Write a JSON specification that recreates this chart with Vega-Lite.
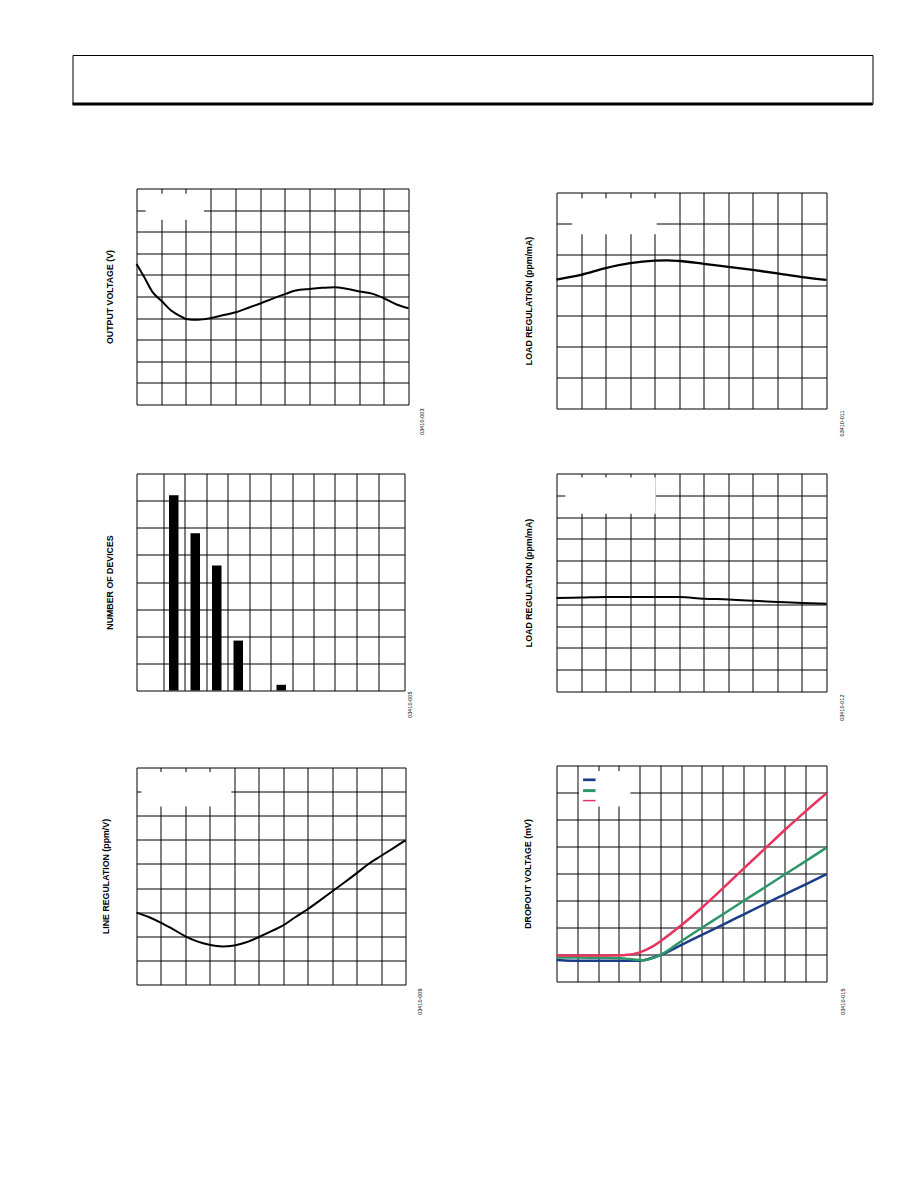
{
  "$schema": "https://vega.github.io/schema/vega-lite/v6.json",
  "background": "white",
  "padding": {"left": 70.5, "top": 54, "right": 10, "bottom": 10},
  "config": {
    "font": "Liberation Sans",
    "view": {"stroke": "black", "strokeWidth": 1},
    "axis": {
      "grid": true, "gridColor": "black", "gridOpacity": 1, "gridWidth": 1,
      "ticks": false, "labels": false, "domain": false, "minExtent": 0,
      "titleFont": "Liberation Sans", "titleFontSize": 8.8, "titleFontWeight": "bold", "titleColor": "black"
    }
  },
  "vconcat": [
    {
      "width": 800, "height": 49,
      "data": {"values": [{"edge": 0}]},
      "mark": {"type": "rule", "color": "black", "strokeWidth": 3},
      "encoding": {"y": {"field": "edge", "type": "quantitative", "scale": {"domain": [0, 1]}, "axis": null}}
    },
    {
      "hconcat": [
        {
          "width": 1, "height": 1,
          "data": {"values": []},
          "mark": {"type": "point", "opacity": 0},
          "view": {"stroke": null, "fill": "white"}
        },
        {
          "hconcat": [
            {
              "vconcat": [
                {
                  "width": 272, "height": 216,
                  "layer": [
                    {
                      "data": {"values": [
                        {"x": 0, "v": 6.51}, {"x": 0.31, "v": 5.9}, {"x": 0.65, "v": 5.2}, {"x": 1.03, "v": 4.78},
                        {"x": 1.4, "v": 4.35}, {"x": 1.81, "v": 4.07}, {"x": 2.0, "v": 3.96}, {"x": 2.49, "v": 3.92},
                        {"x": 3.0, "v": 4.0}, {"x": 3.44, "v": 4.12}, {"x": 4.01, "v": 4.27}, {"x": 4.53, "v": 4.48},
                        {"x": 5.03, "v": 4.69}, {"x": 5.48, "v": 4.89}, {"x": 6.03, "v": 5.12}, {"x": 6.44, "v": 5.28},
                        {"x": 7.0, "v": 5.35}, {"x": 7.52, "v": 5.4}, {"x": 8.03, "v": 5.43}, {"x": 8.48, "v": 5.36},
                        {"x": 9.02, "v": 5.23}, {"x": 9.56, "v": 5.12}, {"x": 10.01, "v": 4.92}, {"x": 10.52, "v": 4.63},
                        {"x": 11, "v": 4.46}
                      ]},
                      "mark": {"type": "line", "color": "black", "strokeWidth": 2, "interpolate": "monotone"},
                      "encoding": {
                        "x": {"field": "x", "type": "quantitative", "scale": {"domain": [0, 11], "nice": false, "zero": false}, "axis": {"values": [1,2,3,4,5,6,7,8,9,10], "tickCount": 100, "title": null}},
                        "y": {"field": "v", "type": "quantitative", "scale": {"domain": [0, 10], "nice": false, "zero": false}, "axis": {"values": [1,2,3,4,5,6,7,8,9], "tickCount": 100, "title": "OUTPUT VOLTAGE (V)", "titlePadding": 22.3}}
                      }
                    },
                    {
                      "data": {"values": [{}]},
                      "mark": {"type": "rect", "color": "white"},
                      "encoding": {"x": {"datum": 0.37, "type": "quantitative"}, "x2": {"datum": 2.73}, "y": {"datum": 8.55, "type": "quantitative"}, "y2": {"datum": 9.76}}
                    },
                    {
                      "data": {"values": [{"code": "03410-003"}]},
                      "mark": {"type": "text", "angle": 270, "align": "right", "baseline": "middle", "fontSize": 5.5, "color": "black", "xOffset": 13, "yOffset": 4},
                      "encoding": {"x": {"datum": 11, "type": "quantitative"}, "y": {"datum": 0, "type": "quantitative"}, "text": {"field": "code"}}
                    }
                  ]
                },
                {
                  "vconcat": [
                    {
                      "width": 268, "height": 217,
                      "layer": [
                        {
                          "data": {"values": [
                            {"bin": 1.5, "devices": 7.2}, {"bin": 2.5, "devices": 5.8}, {"bin": 3.5, "devices": 4.61},
                            {"bin": 4.5, "devices": 1.84}, {"bin": 6.5, "devices": 0.21}
                          ]},
                          "mark": {"type": "bar", "color": "black", "size": 9.5},
                          "encoding": {
                            "x": {"field": "bin", "type": "quantitative", "scale": {"domain": [0, 12], "nice": false, "zero": false}, "axis": {"values": [1,2,3,4,5,6,7,8,9,10,11], "tickCount": 100, "title": null}},
                            "y": {"field": "devices", "type": "quantitative", "scale": {"domain": [0, 8], "nice": false}, "axis": {"values": [1,2,3,4,5,6,7], "tickCount": 100, "title": "NUMBER OF DEVICES", "titlePadding": 21.6}}
                          }
                        },
                        {
                          "data": {"values": [{"code": "03410-005"}]},
                          "mark": {"type": "text", "angle": 270, "align": "right", "baseline": "middle", "fontSize": 5.5, "color": "black", "xOffset": 10, "yOffset": 1},
                          "encoding": {"x": {"datum": 12, "type": "quantitative"}, "y": {"datum": 0, "type": "quantitative"}, "text": {"field": "code"}}
                        }
                      ]
                    },
                    {
                      "width": 269, "height": 217,
                      "layer": [
                        {
                          "data": {"values": [
                            {"x": 0, "v": 2.98}, {"x": 0.5, "v": 2.8}, {"x": 0.99, "v": 2.57}, {"x": 1.45, "v": 2.32},
                            {"x": 2.0, "v": 2.0}, {"x": 2.48, "v": 1.79}, {"x": 2.98, "v": 1.65}, {"x": 3.5, "v": 1.58},
                            {"x": 4.0, "v": 1.62}, {"x": 4.52, "v": 1.76}, {"x": 5.01, "v": 1.97}, {"x": 5.54, "v": 2.22},
                            {"x": 6.0, "v": 2.45}, {"x": 6.49, "v": 2.79}, {"x": 7.0, "v": 3.12}, {"x": 7.52, "v": 3.5},
                            {"x": 8.01, "v": 3.87}, {"x": 8.54, "v": 4.26}, {"x": 9.02, "v": 4.63}, {"x": 9.5, "v": 5.01},
                            {"x": 10.01, "v": 5.34}, {"x": 10.52, "v": 5.67}, {"x": 11, "v": 5.98}
                          ]},
                          "mark": {"type": "line", "color": "black", "strokeWidth": 2, "interpolate": "monotone"},
                          "encoding": {
                            "x": {"field": "x", "type": "quantitative", "scale": {"domain": [0, 11], "nice": false, "zero": false}, "axis": {"values": [1,2,3,4,5,6,7,8,9,10], "tickCount": 100, "title": null}},
                            "y": {"field": "v", "type": "quantitative", "scale": {"domain": [0, 9], "nice": false, "zero": false}, "axis": {"values": [1,2,3,4,5,6,7,8], "tickCount": 100, "title": "LINE REGULATION (ppm/V)", "titlePadding": 26.3}}
                          }
                        },
                        {
                          "data": {"values": [{}]},
                          "mark": {"type": "rect", "color": "white"},
                          "encoding": {"x": {"datum": 0.2, "type": "quantitative"}, "x2": {"datum": 3.88}, "y": {"datum": 7.38, "type": "quantitative"}, "y2": {"datum": 8.81}}
                        },
                        {
                          "data": {"values": [{"code": "03410-009"}]},
                          "mark": {"type": "text", "angle": 270, "align": "right", "baseline": "middle", "fontSize": 5.5, "color": "black", "xOffset": 14, "yOffset": 4},
                          "encoding": {"x": {"datum": 11, "type": "quantitative"}, "y": {"datum": 0, "type": "quantitative"}, "text": {"field": "code"}}
                        }
                      ]
                    }
                  ],
                  "spacing": 48
                }
              ],
              "spacing": 37
            },
            {
              "vconcat": [
                {
                  "width": 1, "height": 1,
                  "data": {"values": []},
                  "mark": {"type": "point", "opacity": 0},
                  "view": {"stroke": null, "fill": "white"}
                },
                {
                  "vconcat": [
                    {
                      "width": 270, "height": 216,
                      "layer": [
                        {
                          "data": {"values": [
                            {"x": 0, "v": 4.18}, {"x": 1, "v": 4.33}, {"x": 2, "v": 4.55}, {"x": 3, "v": 4.71},
                            {"x": 4, "v": 4.79}, {"x": 4.52, "v": 4.8}, {"x": 5, "v": 4.78}, {"x": 6, "v": 4.69},
                            {"x": 7, "v": 4.59}, {"x": 8, "v": 4.49}, {"x": 9, "v": 4.38}, {"x": 10, "v": 4.26}, {"x": 11, "v": 4.17}
                          ]},
                          "mark": {"type": "line", "color": "black", "strokeWidth": 2.3, "interpolate": "monotone"},
                          "encoding": {
                            "x": {"field": "x", "type": "quantitative", "scale": {"domain": [0, 11], "nice": false, "zero": false}, "axis": {"values": [1,2,3,4,5,6,7,8,9,10], "tickCount": 100, "title": null}},
                            "y": {"field": "v", "type": "quantitative", "scale": {"domain": [0, 7], "nice": false, "zero": false}, "axis": {"values": [1,2,3,4,5,6], "tickCount": 100, "title": "LOAD REGULATION (ppm/mA)", "titlePadding": 22.8}}
                          }
                        },
                        {
                          "data": {"values": [{}]},
                          "mark": {"type": "rect", "color": "white"},
                          "encoding": {"x": {"datum": 0.64, "type": "quantitative"}, "x2": {"datum": 4.08}, "y": {"datum": 5.65, "type": "quantitative"}, "y2": {"datum": 6.81}}
                        },
                        {
                          "data": {"values": [{"code": "03410-011"}]},
                          "mark": {"type": "text", "angle": 270, "align": "right", "baseline": "middle", "fontSize": 5.5, "color": "black", "xOffset": 15, "yOffset": 2},
                          "encoding": {"x": {"datum": 11, "type": "quantitative"}, "y": {"datum": 0, "type": "quantitative"}, "text": {"field": "code"}}
                        }
                      ]
                    },
                    {
                      "vconcat": [
                        {
                          "width": 270, "height": 218,
                          "layer": [
                            {
                              "data": {"values": [
                                {"x": 0, "v": 4.29}, {"x": 1, "v": 4.31}, {"x": 2, "v": 4.34}, {"x": 3, "v": 4.34},
                                {"x": 4, "v": 4.34}, {"x": 5, "v": 4.33}, {"x": 6, "v": 4.26}, {"x": 7, "v": 4.22},
                                {"x": 8, "v": 4.16}, {"x": 9, "v": 4.11}, {"x": 10, "v": 4.06}, {"x": 11, "v": 4.02}
                              ]},
                              "mark": {"type": "line", "color": "black", "strokeWidth": 2, "interpolate": "monotone"},
                              "encoding": {
                                "x": {"field": "x", "type": "quantitative", "scale": {"domain": [0, 11], "nice": false, "zero": false}, "axis": {"values": [1,2,3,4,5,6,7,8,9,10], "tickCount": 100, "title": null}},
                                "y": {"field": "v", "type": "quantitative", "scale": {"domain": [0, 10], "nice": false, "zero": false}, "axis": {"values": [1,2,3,4,5,6,7,8,9], "tickCount": 100, "title": "LOAD REGULATION (ppm/mA)", "titlePadding": 23.3}}
                              }
                            },
                            {
                              "data": {"values": [{}]},
                              "mark": {"type": "rect", "color": "white"},
                              "encoding": {"x": {"datum": 0.36, "type": "quantitative"}, "x2": {"datum": 4.04}, "y": {"datum": 8.15, "type": "quantitative"}, "y2": {"datum": 9.82}}
                            },
                            {
                              "data": {"values": [{"code": "03410-012"}]},
                              "mark": {"type": "text", "angle": 270, "align": "right", "baseline": "middle", "fontSize": 5.5, "color": "black", "xOffset": 15, "yOffset": 3},
                              "encoding": {"x": {"datum": 11, "type": "quantitative"}, "y": {"datum": 0, "type": "quantitative"}, "text": {"field": "code"}}
                            }
                          ]
                        },
                        {
                          "width": 270, "height": 216,
                          "layer": [
                            {
                              "data": {"values": [
                                {"s": "A", "x": 0, "v": 0.8}, {"s": "A", "x": 0.4, "v": 0.78}, {"s": "A", "x": 1, "v": 0.77},
                                {"s": "A", "x": 2, "v": 0.77}, {"s": "A", "x": 3, "v": 0.77}, {"s": "A", "x": 4, "v": 0.77},
                                {"s": "A", "x": 4.2, "v": 0.79}, {"s": "A", "x": 5, "v": 0.98}, {"s": "A", "x": 6, "v": 1.35},
                                {"s": "A", "x": 7, "v": 1.73}, {"s": "A", "x": 8, "v": 2.1}, {"s": "A", "x": 9, "v": 2.48},
                                {"s": "A", "x": 10, "v": 2.86}, {"s": "A", "x": 11, "v": 3.23}, {"s": "A", "x": 12, "v": 3.6},
                                {"s": "A", "x": 13, "v": 3.98},
                                {"s": "B", "x": 0, "v": 0.89}, {"s": "B", "x": 1, "v": 0.89}, {"s": "B", "x": 2, "v": 0.88},
                                {"s": "B", "x": 3, "v": 0.87}, {"s": "B", "x": 3.5, "v": 0.83}, {"s": "B", "x": 4, "v": 0.8},
                                {"s": "B", "x": 4.2, "v": 0.79}, {"s": "B", "x": 4.5, "v": 0.84}, {"s": "B", "x": 5, "v": 0.98},
                                {"s": "B", "x": 6, "v": 1.49}, {"s": "B", "x": 7, "v": 1.99}, {"s": "B", "x": 8, "v": 2.48},
                                {"s": "B", "x": 9, "v": 2.98}, {"s": "B", "x": 10, "v": 3.47}, {"s": "B", "x": 11, "v": 3.97},
                                {"s": "B", "x": 12, "v": 4.46}, {"s": "B", "x": 13, "v": 4.96},
                                {"s": "C", "x": 0, "v": 0.96}, {"s": "C", "x": 1, "v": 0.96}, {"s": "C", "x": 2, "v": 0.96},
                                {"s": "C", "x": 3, "v": 0.97}, {"s": "C", "x": 3.32, "v": 0.98}, {"s": "C", "x": 4.01, "v": 1.08},
                                {"s": "C", "x": 4.61, "v": 1.29}, {"s": "C", "x": 5.02, "v": 1.5}, {"s": "C", "x": 6.02, "v": 2.09},
                                {"s": "C", "x": 7.01, "v": 2.74}, {"s": "C", "x": 8.01, "v": 3.45}, {"s": "C", "x": 9.02, "v": 4.19},
                                {"s": "C", "x": 10.02, "v": 4.91}, {"s": "C", "x": 11.03, "v": 5.64}, {"s": "C", "x": 12.02, "v": 6.32},
                                {"s": "C", "x": 13, "v": 6.97}
                              ]},
                              "mark": {"type": "line", "interpolate": "monotone"},
                              "encoding": {
                                "x": {"field": "x", "type": "quantitative", "scale": {"domain": [0, 13], "nice": false, "zero": false}, "axis": {"values": [1,2,3,4,5,6,7,8,9,10,11,12], "tickCount": 100, "title": null}},
                                "y": {"field": "v", "type": "quantitative", "scale": {"domain": [0, 8], "nice": false, "zero": false}, "axis": {"values": [1,2,3,4,5,6,7], "tickCount": 100, "title": "DROPOUT VOLTAGE (mV)", "titlePadding": 24}},
                                "color": {"field": "s", "type": "nominal", "scale": {"domain": ["A", "B", "C"], "range": ["#1b3c87", "#2e9768", "#e8335e"]}, "legend": null},
                                "strokeWidth": {"field": "s", "type": "ordinal", "scale": {"domain": ["A", "B", "C"], "range": [2.5, 2.5, 1.5]}, "legend": null}
                              }
                            },
                            {
                              "data": {"values": [{}]},
                              "mark": {"type": "rect", "color": "white"},
                              "encoding": {"x": {"datum": 1.08, "type": "quantitative"}, "x2": {"datum": 3.56}, "y": {"datum": 6.48, "type": "quantitative"}, "y2": {"datum": 7.8}}
                            },
                            {
                              "data": {"values": [{}]},
                              "mark": {"type": "rule", "color": "#1b3c87", "strokeWidth": 2.7},
                              "encoding": {"x": {"datum": 1.28, "type": "quantitative"}, "x2": {"datum": 1.88}, "y": {"datum": 7.47, "type": "quantitative"}}
                            },
                            {
                              "data": {"values": [{}]},
                              "mark": {"type": "rule", "color": "#2e9768", "strokeWidth": 3},
                              "encoding": {"x": {"datum": 1.28, "type": "quantitative"}, "x2": {"datum": 1.88}, "y": {"datum": 7.07, "type": "quantitative"}}
                            },
                            {
                              "data": {"values": [{}]},
                              "mark": {"type": "rule", "color": "#e8335e", "strokeWidth": 1.5},
                              "encoding": {"x": {"datum": 1.28, "type": "quantitative"}, "x2": {"datum": 1.88}, "y": {"datum": 6.7, "type": "quantitative"}}
                            },
                            {
                              "data": {"values": [{"code": "03410-015"}]},
                              "mark": {"type": "text", "angle": 270, "align": "right", "baseline": "middle", "fontSize": 5.5, "color": "black", "xOffset": 16, "yOffset": 7},
                              "encoding": {"x": {"datum": 13, "type": "quantitative"}, "y": {"datum": 0, "type": "quantitative"}, "text": {"field": "code"}}
                            }
                          ]
                        }
                      ],
                      "spacing": 43
                    }
                  ],
                  "spacing": 35
                }
              ],
              "spacing": 2
            }
          ],
          "spacing": 97
        }
      ],
      "spacing": 27
    }
  ],
  "spacing": 81.5
}
